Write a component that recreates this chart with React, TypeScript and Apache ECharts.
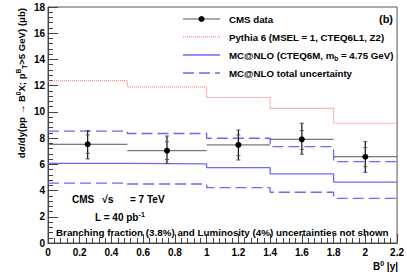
import React, { useEffect, useRef } from "react";
import * as echarts from "echarts";

const binEdges = [0, 0.5, 1.0, 1.4, 1.8, 2.2];
const pythia = [12.37, 11.9, 11.1, 10.27, 9.13];
const mcnlo = [6.08, 6.03, 5.75, 5.27, 4.65];
const mcnloUp = [8.54, 8.35, 7.99, 7.35, 6.2];
const mcnloDown = [4.57, 4.5, 4.22, 3.87, 3.41];

const dataX = [0.25, 0.75, 1.2, 1.6, 2.0];
const dataY = [7.53, 7.04, 7.48, 7.91, 6.58];
const totLo = [6.41, 6.08, 6.33, 6.77, 5.39];
const totHi = [8.57, 8.16, 8.62, 9.13, 7.73];
const statLo = [6.84, 6.36, 6.66, 7.15, 5.82];
const statHi = [8.24, 7.72, 8.24, 8.57, 7.27];

const FONT = "Liberation Sans";

function stepData(vals: number[]) {
  return binEdges.map((e, i) => [e, vals[Math.min(i, vals.length - 1)]]);
}

export default function App() {
  const ref = useRef<HTMLDivElement>(null);
  useEffect(() => {
    if (!ref.current) return;
    const chart = echarts.init(ref.current, null, { renderer: "svg" });
    const pts = dataX.map((x, i) => [
      x,
      dataY[i],
      binEdges[i],
      binEdges[i + 1],
      totLo[i],
      totHi[i],
      statLo[i],
      statHi[i],
    ]);
    const blue = "#6a6af5";
    const red = "#ff6a6a";
    const txt = (x: number, y: number, text: string, size: number, extra: any = {}) => ({
      type: "text",
      x,
      y,
      silent: true,
      style: {
        text,
        fill: "#000",
        font: `bold ${size}px "${FONT}"`,
        textVerticalAlign: "middle",
        ...extra,
      },
    });
    const legY = [19, 37, 55, 73];
    const lx1 = 183,
      lx2 = 220,
      tx = 229,
      LF = 9.7;
    chart.setOption({
      animation: false,
      backgroundColor: "#fff",
      grid: {
        left: 48,
        right: 9,
        top: 7,
        bottom: 33,
        show: true,
        borderColor: "#555",
        borderWidth: 1,
        backgroundColor: "transparent",
      },
      xAxis: {
        type: "value",
        min: 0,
        max: 2.2,
        interval: 0.2,
        axisLine: { lineStyle: { color: "#444", width: 1 } },
        axisTick: { inside: true, length: 9, lineStyle: { color: "#444" } },
        minorTick: { show: true, splitNumber: 5, length: 5, lineStyle: { color: "#444" } },
        splitLine: { show: false },
        axisLabel: {
          color: "#000",
          fontFamily: FONT,
          fontWeight: "bold",
          fontSize: 10,
          margin: 4,
        },
      },
      yAxis: {
        type: "value",
        min: 0,
        max: 18,
        interval: 2,
        axisLine: { show: true, lineStyle: { color: "#444", width: 1 } },
        axisTick: { show: true, inside: true, length: 10, lineStyle: { color: "#444" } },
        minorTick: { show: true, splitNumber: 5, length: 5, lineStyle: { color: "#444" } },
        splitLine: { show: false },
        axisLabel: {
          color: "#000",
          fontFamily: FONT,
          fontWeight: "bold",
          fontSize: 10,
          margin: 3,
        },
      },
      series: [
        {
          type: "line",
          name: "Pythia",
          step: "end",
          data: stepData(pythia),
          symbol: "none",
          lineStyle: { color: red, width: 1.1, type: [1, 1] },
          silent: true,
        },
        {
          type: "line",
          name: "MC@NLO",
          step: "end",
          data: stepData(mcnlo),
          symbol: "none",
          lineStyle: { color: blue, width: 1.3 },
          silent: true,
        },
        {
          type: "line",
          name: "MC@NLO up",
          step: "end",
          data: stepData(mcnloUp),
          symbol: "none",
          lineStyle: { color: blue, width: 1.3, type: [11, 5] },
          silent: true,
        },
        {
          type: "line",
          name: "MC@NLO down",
          step: "end",
          data: stepData(mcnloDown),
          symbol: "none",
          lineStyle: { color: blue, width: 1.3, type: [11, 5] },
          silent: true,
        },
        {
          type: "custom",
          name: "CMS data",
          data: pts,
          z: 10,
          renderItem: (params: any, api: any) => {
            const x = api.value(0);
            const y = api.value(1);
            const c = api.coord([x, y]);
            const l = api.coord([api.value(2), y]);
            const r = api.coord([api.value(3), y]);
            const t = api.coord([x, api.value(5)]);
            const b = api.coord([x, api.value(4)]);
            const s1 = api.coord([x, api.value(7)]);
            const s2 = api.coord([x, api.value(6)]);
            const gray = { stroke: "#555", lineWidth: 1 };
            const tick = (p: number[]) => ({
              type: "line",
              shape: { x1: p[0] - 2, y1: p[1], x2: p[0] + 2, y2: p[1] },
              style: gray,
            });
            return {
              type: "group",
              children: [
                { type: "line", shape: { x1: l[0], y1: l[1], x2: r[0], y2: r[1] }, style: gray },
                {
                  type: "line",
                  shape: { x1: t[0], y1: t[1], x2: b[0], y2: b[1] },
                  style: { stroke: "#111", lineWidth: 1.2 },
                },
                tick(t),
                tick(b),
                tick(s1),
                tick(s2),
                { type: "circle", shape: { cx: c[0], cy: c[1], r: 3 }, style: { fill: "#000" } },
              ],
            };
          },
        },
      ],
      graphic: [
        // legend
        { type: "line", shape: { x1: lx1, y1: legY[0], x2: lx2, y2: legY[0] }, style: { stroke: "#555", lineWidth: 1 } },
        { type: "circle", shape: { cx: (lx1 + lx2) / 2, cy: legY[0], r: 3 }, style: { fill: "#000" } },
        txt(tx, legY[0], "CMS data", LF),
        { type: "line", shape: { x1: lx1, y1: legY[1], x2: lx2, y2: legY[1] }, style: { stroke: red, lineWidth: 1.1, lineDash: [1, 1] } },
        txt(tx, legY[1], "Pythia 6 (MSEL = 1, CTEQ6L1, Z2)", LF),
        { type: "line", shape: { x1: lx1, y1: legY[2], x2: lx2, y2: legY[2] }, style: { stroke: blue, lineWidth: 1.3 } },
        {
          type: "text",
          x: tx,
          y: legY[2],
          silent: true,
          style: {
            text: "{n|MC@NLO (CTEQ6M, m}{s|b}{n| = 4.75 GeV)}",
            textVerticalAlign: "middle",
            rich: {
              n: { fontFamily: FONT, fontWeight: "bold", fontSize: LF, fill: "#000" },
              s: { fontFamily: FONT, fontWeight: "bold", fontSize: 6.5, fill: "#000", padding: [6, 0, 0, 0] },
            },
          },
        },
        { type: "line", shape: { x1: lx1, y1: legY[3], x2: lx2, y2: legY[3] }, style: { stroke: blue, lineWidth: 1.3, lineDash: [11, 5] } },
        txt(tx, legY[3], "MC@NLO total uncertainty", LF),
        txt(386, 19, "(b)", 11, { textAlign: "center" }),
        // annotations
        txt(72, 199, "CMS", 10),
        txt(102, 199, "\u221as", 10.5),
        txt(130, 199, "= 7 TeV", 10),
        {
          type: "text",
          x: 95,
          y: 217,
          silent: true,
          style: {
            text: "{n|L = 40 pb}{s|-1}",
            textVerticalAlign: "middle",
            rich: {
              n: { fontFamily: FONT, fontWeight: "bold", fontSize: 10, fill: "#000" },
              s: { fontFamily: FONT, fontWeight: "bold", fontSize: 7, fill: "#000", padding: [0, 0, 6, 0] },
            },
          },
        },
        txt(56, 232, "Branching fraction (3.8%) and Luminosity (4%) uncertainties not shown", 9.8),
        // x axis title
        {
          type: "text",
          x: 398,
          y: 266,
          silent: true,
          style: {
            text: "{n|B}{s|0}{n| |y|}",
            textAlign: "right",
            textVerticalAlign: "middle",
            rich: {
              n: { fontFamily: FONT, fontWeight: "bold", fontSize: 10, fill: "#000" },
              s: { fontFamily: FONT, fontWeight: "bold", fontSize: 7, fill: "#000", padding: [0, 0, 6, 0] },
            },
          },
        },
        // y axis title
        {
          type: "text",
          x: 21,
          y: 8,
          rotation: Math.PI / 2,
          silent: true,
          style: {
            text: "{n|d\u03c3/dy(pp \u2192 B}{s|0}{n|X; p}{s|B}{b|T}{n|>5 GeV) (\u03bcb)}",
            textAlign: "right",
            textVerticalAlign: "middle",
            rich: {
              n: { fontFamily: FONT, fontWeight: "bold", fontSize: 9.6, fill: "#000" },
              s: { fontFamily: FONT, fontWeight: "bold", fontSize: 6.5, fill: "#000", padding: [0, 0, 6, 0] },
              b: { fontFamily: FONT, fontWeight: "bold", fontSize: 6.5, fill: "#000", padding: [6, 0, 0, 0] },
            },
          },
        },
      ],
    });
    return () => chart.dispose();
  }, []);
  return (
    <div
      ref={ref}
      style={{ position: "fixed", left: 0, top: 0, width: 407, height: 276, background: "#fff" }}
    />
  );
}
